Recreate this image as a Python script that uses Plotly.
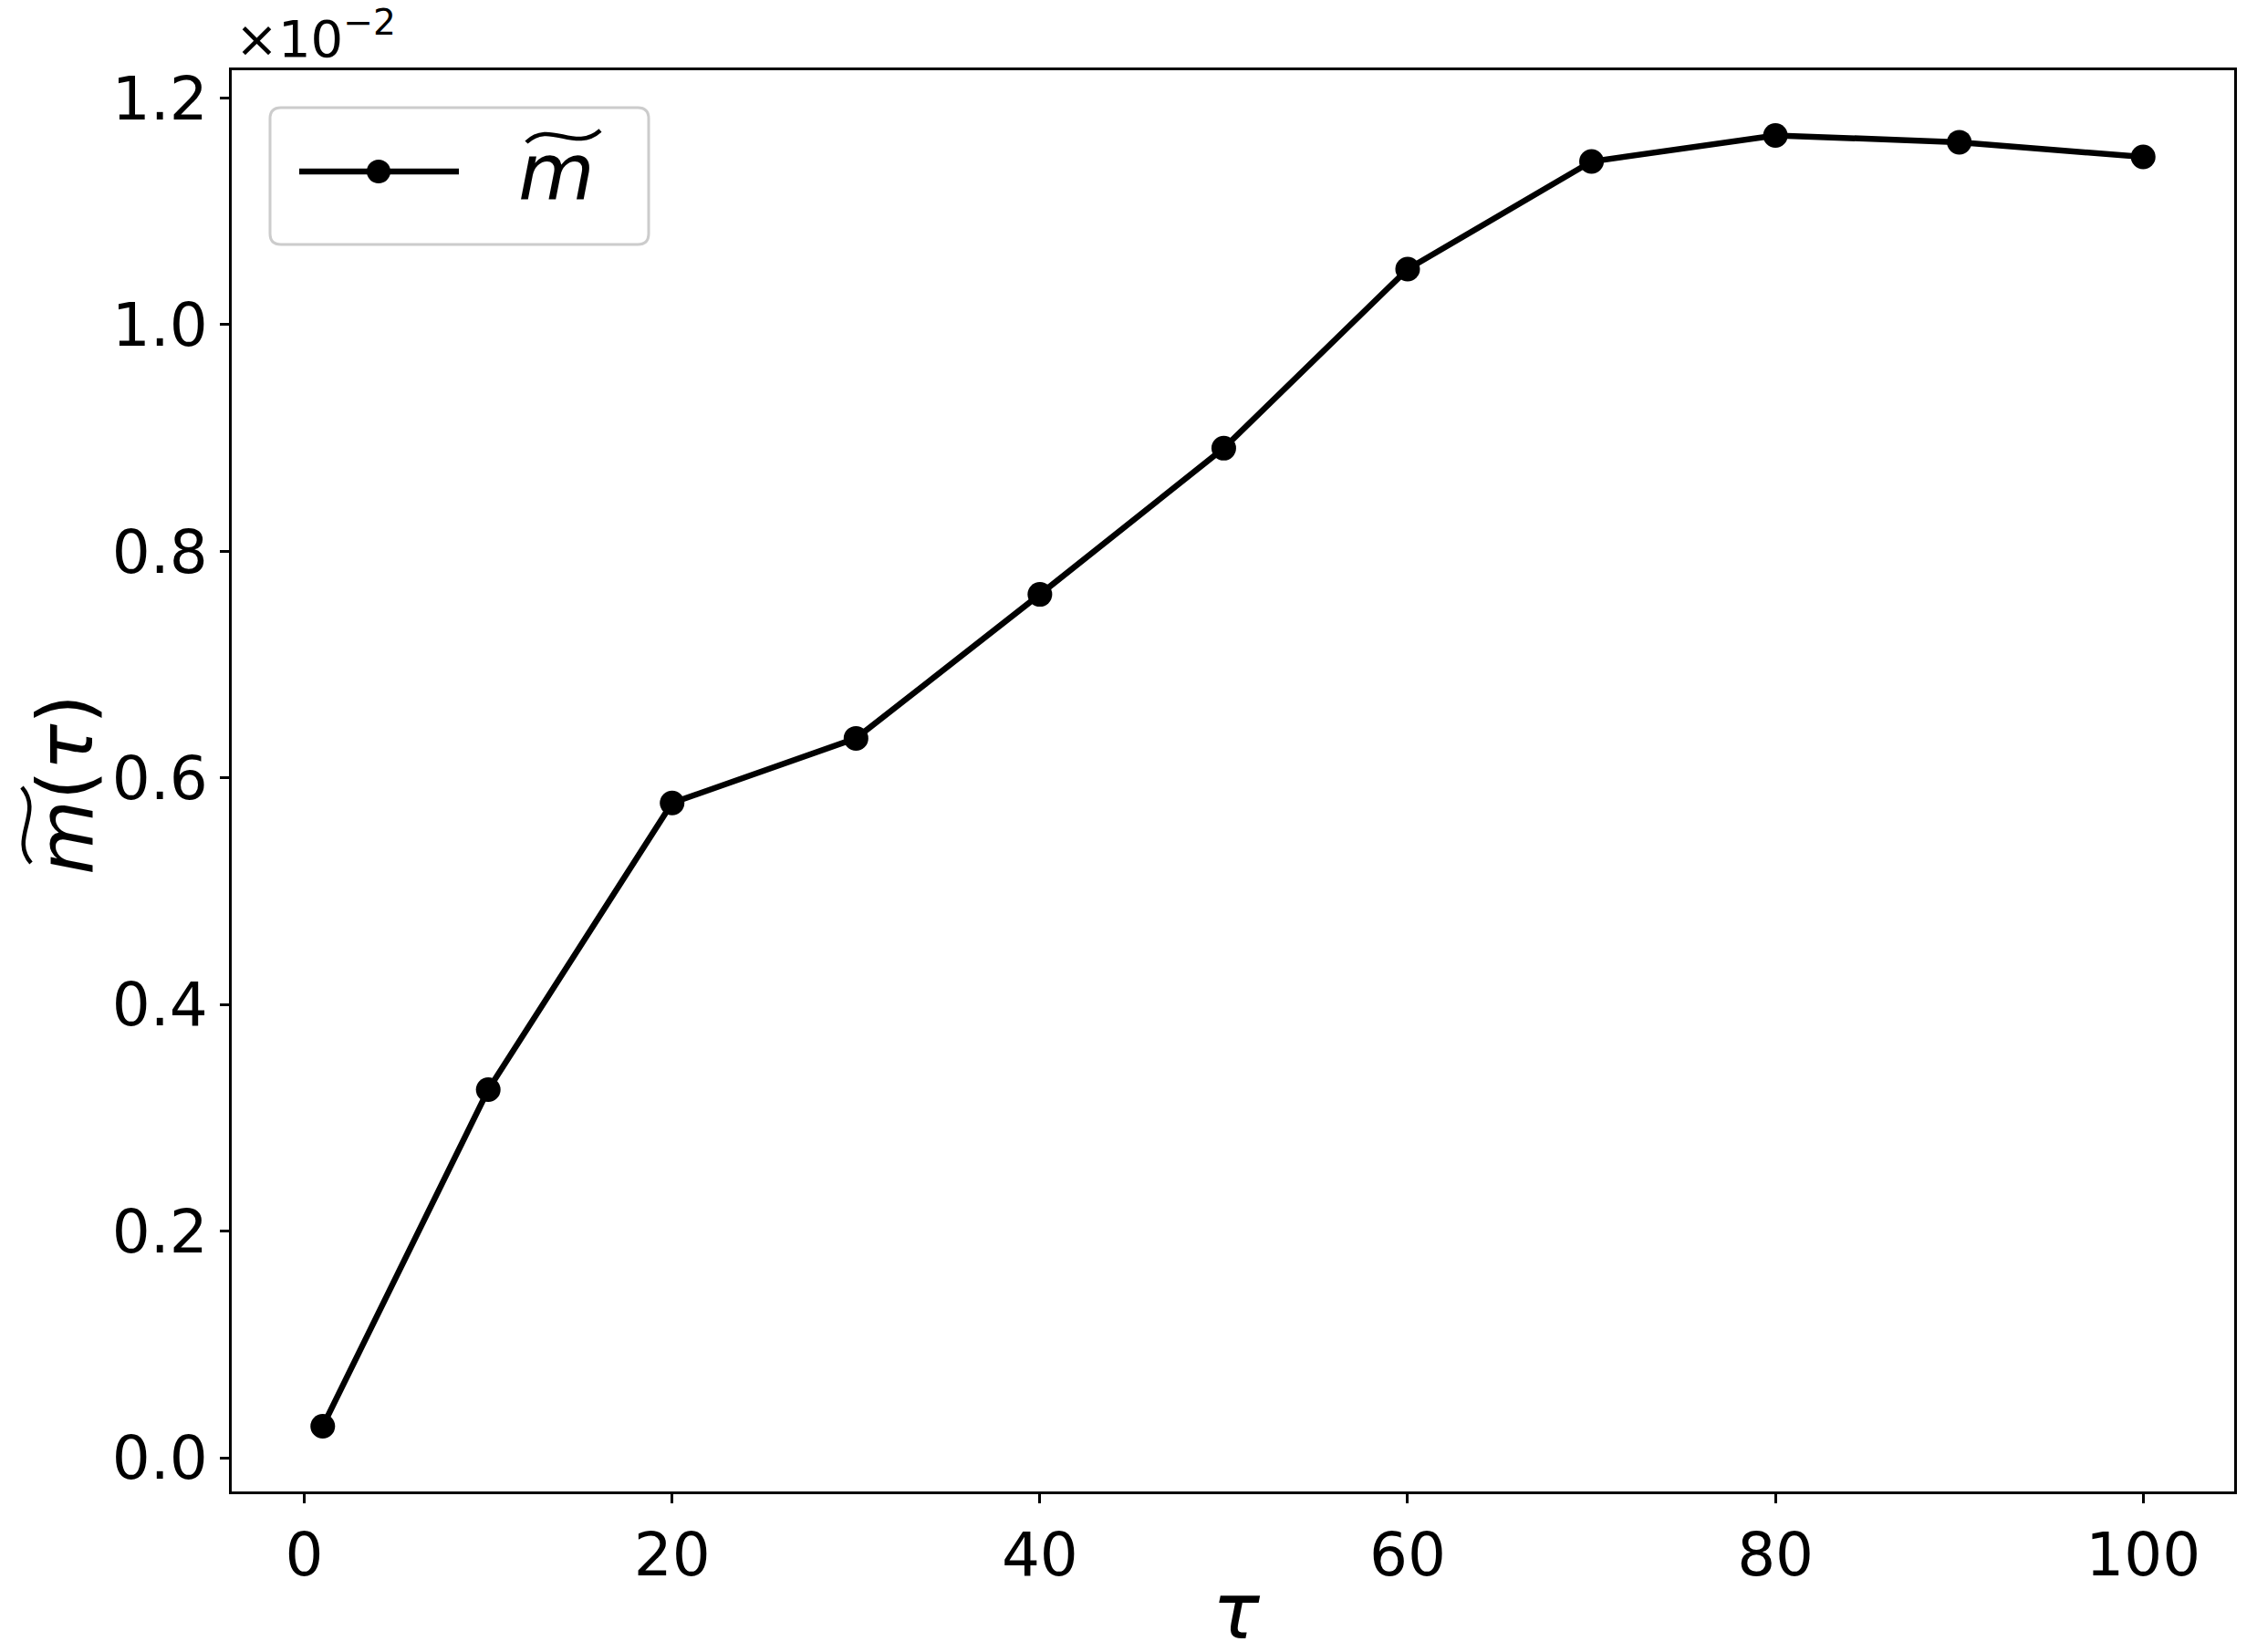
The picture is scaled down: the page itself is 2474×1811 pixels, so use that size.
import plotly.graph_objects as go

# data (in units of 1e-2)
tau = [1, 10, 20, 30, 40, 50, 60, 70, 80, 90, 100]
m_tilde = [0.028, 0.325, 0.578, 0.635, 0.762, 0.891, 1.049, 1.144, 1.167, 1.161, 1.148]
x_ticks = [0, 20, 40, 60, 80, 100]
y_ticks = [0.0, 0.2, 0.4, 0.6, 0.8, 1.0, 1.2]

FONT = 'DejaVu Sans'
BLACK = '#000000'

# the page body has an 8px margin, so the figure sits at (8, 8)
OFF = 8
W, H = 2474 - OFF, 1811 - OFF
L, R, T, B = 254 - OFF, 25, 77 - OFF, 176


def px_x(p):
    # page pixel column -> paper x
    return (p - OFF - L) / (W - L - R)


def px_y(p):
    # page pixel row -> paper y
    return 1 - (p - OFF - T) / (H - T - B)


fig = go.Figure()
fig.add_trace(go.Scatter(
    x=tau, y=m_tilde, mode='lines+markers',
    line=dict(color=BLACK, width=6.5),
    marker=dict(color=BLACK, size=27),
    showlegend=False,
))

fig.update_layout(
    width=W, height=H,
    margin=dict(l=L, r=R, t=T, b=B, autoexpand=False),
    paper_bgcolor='white', plot_bgcolor='white',
    font=dict(family=FONT, color=BLACK, size=66),
)

axis_common = dict(
    showgrid=False, zeroline=False, showline=True, mirror=True,
    linecolor=BLACK, linewidth=3, ticks='outside', ticklen=10,
    tickwidth=3, tickcolor=BLACK, tickfont=dict(size=66, family=FONT),
    automargin=False,
)
fig.update_xaxes(range=[-3.95, 104.95], tickvals=x_ticks, **axis_common)
fig.update_yaxes(range=[-0.0295, 1.2245], tickvals=y_ticks, tickformat='.1f', **axis_common)

# axis titles
fig.add_annotation(
    xref='paper', yref='paper', x=px_x(1355), y=px_y(1766),
    xanchor='center', yanchor='middle', showarrow=False,
    text='<i>τ</i>', font=dict(size=86, family=FONT),
)
fig.add_annotation(
    xref='paper', yref='paper', x=px_x(72), y=px_y(860),
    xanchor='center', yanchor='middle', showarrow=False, textangle=-90,
    text='<i>m</i>(<i>τ</i>)', font=dict(size=84, family=FONT),
)
# wide tilde over the m of the y label
fig.add_shape(type='path', xref='paper', yref='paper',
              path=(f'M {px_x(34)} {px_y(946)} C {px_x(10)} {px_y(919)} '
                    f'{px_x(48)} {px_y(891)} {px_x(24)} {px_y(863)}'),
              line=dict(color=BLACK, width=4.5))

# offset text for the y axis
fig.add_annotation(
    xref='paper', yref='paper', x=px_x(256), y=px_y(77),
    xanchor='left', yanchor='bottom', showarrow=False,
    text='×10<sup>−2</sup>', font=dict(size=56, family=FONT),
)

# legend drawn by hand (rounded box like matplotlib)
x0, x1, y0, y1, rr = 296, 711, 118, 268, 12
path = (f'M {px_x(x0 + rr)} {px_y(y0)} L {px_x(x1 - rr)} {px_y(y0)} '
        f'Q {px_x(x1)} {px_y(y0)} {px_x(x1)} {px_y(y0 + rr)} '
        f'L {px_x(x1)} {px_y(y1 - rr)} Q {px_x(x1)} {px_y(y1)} {px_x(x1 - rr)} {px_y(y1)} '
        f'L {px_x(x0 + rr)} {px_y(y1)} Q {px_x(x0)} {px_y(y1)} {px_x(x0)} {px_y(y1 - rr)} '
        f'L {px_x(x0)} {px_y(y0 + rr)} Q {px_x(x0)} {px_y(y0)} {px_x(x0 + rr)} {px_y(y0)} Z')
fig.add_shape(type='path', xref='paper', yref='paper', path=path,
              line=dict(color='#cccccc', width=3), fillcolor='rgba(255,255,255,0.8)')
fig.add_shape(type='line', xref='paper', yref='paper',
              x0=px_x(328), x1=px_x(503), y0=px_y(188), y1=px_y(188),
              line=dict(color=BLACK, width=6.5))
fig.add_shape(type='circle', xref='paper', yref='paper',
              x0=px_x(402), x1=px_x(428), y0=px_y(175), y1=px_y(201),
              line=dict(color=BLACK, width=0), fillcolor=BLACK)
fig.add_annotation(
    xref='paper', yref='paper', x=px_x(566), y=px_y(188),
    xanchor='left', yanchor='middle', showarrow=False,
    text='<i>m</i>', font=dict(size=86, family=FONT),
)
fig.add_shape(type='path', xref='paper', yref='paper',
              path=(f'M {px_x(577)} {px_y(156)} C {px_x(603)} {px_y(131)} '
                    f'{px_x(630)} {px_y(168)} {px_x(658)} {px_y(143)}'),
              line=dict(color=BLACK, width=4.5))

fig.write_html('out.html')
